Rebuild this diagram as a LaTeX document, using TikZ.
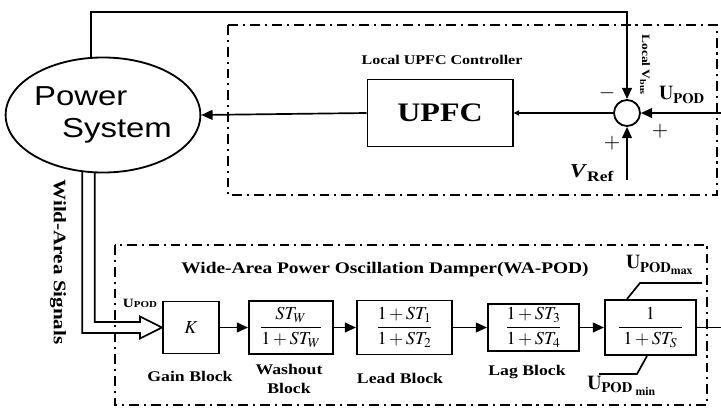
\documentclass[tikz,border=0pt]{standalone}
\usepackage{mathptmx}
\usepackage{fontspec}
\setmainfont{Liberation Serif}[FakeStretch=1.2]
\newfontfamily\arialfont{Liberation Sans}[FakeStretch=1.2]
\usetikzlibrary{arrows.meta,positioning,shapes.geometric,calc}

\begin{document}
\begin{tikzpicture}[
      x=0.025cm, y=-0.025cm,
      >={Triangle[length=8pt,width=7pt]},
      blk/.style={draw, line width=1.4pt, inner sep=0pt, align=center,
                  font=\fontsize{13}{15}\selectfont},
      frame/.style={draw, line width=1.4pt,
                    dash pattern=on 7pt off 3.5pt on 1.5pt off 3.5pt},
      lbl/.style={font=\fontsize{10.5}{13}\selectfont\bfseries, align=center},
      sig/.style={->, line width=1.2pt},
      sgn/.style={font=\fontsize{15}{15}\selectfont},
      lim/.style={font=\fontsize{14}{14}\selectfont},
    ]
    \useasboundingbox (0,0) rectangle (721,408);

    % --- frames ---
    \draw[frame] (228,25) rectangle (717,195);
    \draw[frame] (115,245) rectangle (707,405);

    % --- upper loop ---
    \node[ellipse, draw, line width=1.3pt, minimum width=4.575cm,
          minimum height=2.875cm, inner sep=0pt, align=left,
          font=\arialfont\fontsize{19.5}{23}\selectfont] (ps) at (103,115)
      {Power\\\hspace*{0.7cm}System};
    \node[blk, minimum width=3.625cm, minimum height=1.675cm,
          font=\fontsize{19}{21}\selectfont\bfseries] (upfc) at (440,113) {UPFC};
    \node[circle, draw, line width=1.3pt, minimum size=0.65cm,
          inner sep=0pt] (sum) at (627,113) {};
    \node[lbl, font=\fontsize{9.5}{11}\selectfont\bfseries] (lc) at (442,60)
      {Local UPFC Controller};
    \node[rotate=-90, font=\fontsize{8}{9}\selectfont\bfseries] (vbus) at (645,65)
      {Local V\textsubscript{bus}};

    \coordinate (tc) at (627,12);
    \coordinate (upin) at (721,113);
    \coordinate (vin) at (627,180);

    \draw[sig] (ps.102) |- (tc) -- (sum.north);
    \draw[line width=1.2pt, -{Triangle[length=4pt,width=3.5pt]}] (sum.west) -- (upfc.east);
    \draw[sig] (upfc.west) -- (ps.east);
    \draw[sig] (upin) -- (sum.east);
    \draw[sig] (vin) -- (sum.south);

    \node[sgn] (m1) at (607,93) {$-$};
    \node[sgn] (p1) at (660,131) {$+$};
    \node[sgn] (p2) at (612,143) {$+$};
    \node[lim] (upod) at (682,95) {$\mathbf{U}_{\mathbf{POD}}$};
    \node[font=\fontsize{14}{14}\selectfont] (vref) at (592,173)
      {\textbf{\textit{V}}\textsubscript{\textbf{Ref}}};

    % --- WA-POD chain ---
    \node[blk, minimum width=1.4cm, minimum height=1.3cm] (k) at (191,327.5) {$K$};
    \node[blk, minimum width=2.1cm, minimum height=1.325cm, right=0.7cm of k] (wo)
      {$\displaystyle\frac{ST_W}{1+ST_W}$};
    \node[blk, minimum width=2.375cm, minimum height=1.35cm, right=0.55cm of wo] (lead)
      {$\displaystyle\frac{1+ST_1}{1+ST_2}$};
    \node[blk, minimum width=2.275cm, minimum height=1.175cm, right=0.85cm of lead] (lag)
      {$\displaystyle\frac{1+ST_3}{1+ST_4}$};
    \node[blk, minimum width=2.275cm, minimum height=1.375cm, right=0.6cm of lag] (sat)
      {$\displaystyle\frac{1}{\;1+ST_S\;}$};

    \draw[sig] (k.east) -- (wo.west);
    \draw[sig] (wo.east) -- (lead.west);
    \draw[sig] (lead.east) -- (lag.west);
    \draw[sig] (lag.east) -- (sat.west);
    \coordinate (out) at (721,327.5);
    \draw[line width=1.2pt] (sat.east) -- (out);

    % --- limits ---
    \draw[line width=1.2pt] ($(sat.north west)+(23,0)$) -- ++(13,-16) -- ++(62,0);
    \draw[line width=1.2pt] ($(sat.south west)+(43,0)$) -- ++(-10,18) -- ++(-38,0);
    \node[lim] (umax) at (660,265) {$\mathbf{U}_{\mathbf{POD}_{\mathbf{max}}}$};
    \node[lim] (umin) at (622,386) {$\mathbf{U}_{\mathbf{POD}\;_{\mathbf{min}}}$};

    % --- wide-area signals ---
    \draw[line width=1.2pt] (ps.262) |- ($(k.west)+(-22,-5.5)$)
      -- ($(k.west)+(-22,-11)$) -- (k.west) -- ($(k.west)+(-22,11)$)
      -- ($(k.west)+(-22,5.5)$) -| (ps.250);
    \node[rotate=-90, font=\fontsize{12.5}{14}\selectfont\bfseries] (was) at (58,262)
      {Wild-Area Signals};
    \node[font=\fontsize{9}{10}\selectfont\bfseries] (uin) at (140,303)
      {U{\fontsize{6.5}{7}\selectfont POD}};

    % --- labels ---
    \node[font=\fontsize{11.5}{13}\selectfont\bfseries] (title) at (385,270)
      {Wide-Area Power Oscillation Damper(WA-POD)};
    \node[lbl] (lk) at (190,376) {Gain Block};
    \node[lbl] (lwo) at (289,379) {Washout\\Block};
    \node[lbl] (llead) at (400,378) {Lead Block};
    \node[lbl] (llag) at (527,372) {Lag Block};
  \end{tikzpicture}
\end{document}
